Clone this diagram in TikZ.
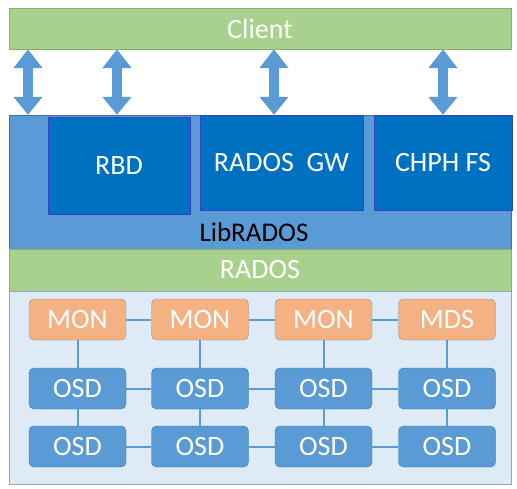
\documentclass[tikz,border=0pt]{standalone}
\usepackage{fontspec}
\setmainfont{Carlito}
\usetikzlibrary{arrows.meta}

\definecolor{barGreen}{HTML}{A9D18E}
\definecolor{barGreenLine}{HTML}{86B06A}
\definecolor{libBlue}{HTML}{5B9BD5}
\definecolor{libBlueLine}{HTML}{41719C}
\definecolor{apiBlue}{HTML}{0070C0}
\definecolor{apiBlueLine}{HTML}{3A3FC8}
\definecolor{paleBlue}{HTML}{DEEBF7}
\definecolor{paleBlueLine}{HTML}{8FA9BF}
\definecolor{monOrange}{HTML}{F4B183}
\definecolor{monLine}{HTML}{8C8C8C}

\begin{document}
\begin{tikzpicture}[x=1pt, y=-1pt,
  bar/.style={draw=barGreenLine, fill=barGreen, text=white, inner sep=0pt,
    minimum width=502pt, font=\fontsize{28}{32}\selectfont},
  api/.style={draw=apiBlueLine, fill=apiBlue, text=white, inner sep=0pt,
    font=\fontsize{28}{32}\selectfont},
  daemon/.style={rounded corners=5pt, inner sep=0pt, minimum width=97pt,
    minimum height=41pt, text=white, font=\fontsize{28}{32}\selectfont},
  mon/.style={daemon, draw=monLine, fill=monOrange},
  osd/.style={daemon, draw=libBlueLine, fill=libBlue},
  link/.style={draw=libBlue, line width=2pt},
  dbl/.style={draw=libBlue, line width=10pt,
    {Triangle[width=28pt,length=19pt]}-{Triangle[width=28pt,length=18pt]}}]
\useasboundingbox (0,0) rectangle (517,488);

% layers
\node[draw=libBlueLine, fill=libBlue, minimum width=502pt, minimum height=134pt,
  inner sep=0pt] (lib) at (260,182) {};
\node[font=\fontsize{27}{31}\selectfont] (libtext) at (254,232) {LibRADOS};
\node[api, minimum width=142pt, minimum height=97pt] (rbd) at (119,165.5) {RBD};
\node[api, minimum width=163pt, minimum height=95pt] (gw) at (281.5,162.5) {RADOS\ \ GW};
\node[api, minimum width=138pt, minimum height=95pt] (fs) at (443,162.5) {CHPH FS};
\node[bar, minimum height=41pt] (client) at (260,28.5) {Client};
\node[bar, minimum height=42pt] (rados) at (260,270) {RADOS};
\node[draw=paleBlueLine, fill=paleBlue, minimum width=502pt, minimum height=193pt,
  inner sep=0pt] (cluster) at (260,387.5) {};

% client access
\foreach \x [count=\i] in {28,117,274,443} {
  \coordinate (p\i) at (\x,0);
  \draw[dbl] (client.south -| p\i) -- (lib.north -| p\i);
}

% daemons
\foreach \x/\t [count=\i] in {77.5/MON, 200/MON, 323.5/MON, 447/MDS} {
  \node[mon] (m\i) at (\x,319.5) {\t};
  \node[osd] (o\i) at (\x,388.5) {OSD};
  \node[osd] (b\i) at (\x,446.5) {OSD};
}
\foreach \i/\j in {1/2,2/3,3/4} {
  \draw[link] (m\i) -- (m\j);
  \draw[link] (o\i) -- (o\j);
  \draw[link] (b\i) -- (b\j);
}
\foreach \i in {1,...,4} {
  \draw[link] (m\i) -- (o\i);
  \draw[link] (o\i) -- (b\i);
}
\end{tikzpicture}
\end{document}
